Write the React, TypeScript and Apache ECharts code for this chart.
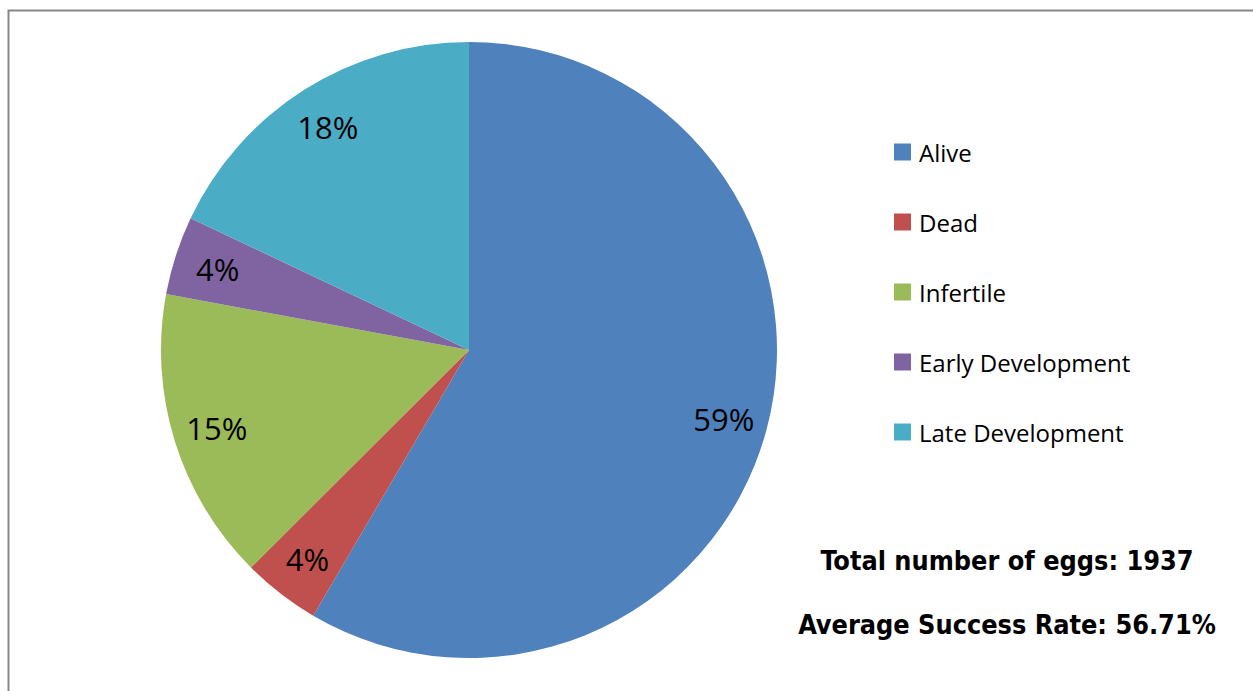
import React, { useEffect, useRef } from "react";
import * as echarts from "echarts";

const categories = ["Alive", "Dead", "Infertile", "Early Development", "Late Development"];
const counts = [1132, 79, 298, 80, 348];
const colors = ["#4F81BD", "#C0504D", "#9BBB59", "#8064A2", "#4BACC6"];
const totalEggs = 1937;
const successRate = "56.71%";

export default function App() {
  const ref = useRef<HTMLDivElement>(null);
  useEffect(() => {
    document.body.style.margin = "0";
    if (!ref.current) return;
    const chart = echarts.init(ref.current, null, { renderer: "svg" });
    const data = categories.map((name, i) => ({ name, value: counts[i], itemStyle: { color: colors[i] } }));
    const labelFont = "'Open Sans', sans-serif";
    const boldFont = "bold 26.8px 'DejaVu Sans Condensed', 'DejaVu Sans', sans-serif";
    chart.setOption({
      animation: false,
      backgroundColor: "#ffffff",
      legend: {
        orient: "vertical",
        left: 894,
        top: 139,
        padding: 0,
        itemWidth: 17,
        itemHeight: 17,
        itemGap: 44,
        icon: "rect",
        data: categories,
        selectedMode: false,
        textStyle: { fontFamily: labelFont, fontSize: 24, color: "#000", lineHeight: 26, padding: [0, 0, 0, 3] },
      },
      graphic: [
        {
          type: "rect",
          silent: true,
          shape: { x: 8.5, y: 10.5, width: 1400, height: 1000 },
          style: { fill: "none", stroke: "#878787", lineWidth: 2 },
          z: 0,
        },
        {
          type: "text",
          x: 1007,
          y: 560,
          style: {
            text: "Total number of eggs: " + totalEggs,
            font: boldFont,
            fill: "#000",
            align: "center",
            verticalAlign: "middle",
          },
        },
        {
          type: "text",
          x: 1007,
          y: 624,
          style: {
            text: "Average Success Rate: " + successRate,
            font: boldFont,
            fill: "#000",
            align: "center",
            verticalAlign: "middle",
          },
        },
      ],
      series: [
        {
          type: "pie",
          center: [469, 350],
          radius: [0, 308],
          startAngle: 90,
          clockwise: true,
          data,
          label: { show: false },
          labelLine: { show: false },
          itemStyle: { borderWidth: 0 },
          silent: true,
        },
        {
          type: "pie",
          center: [469, 350],
          radius: [214, 308],
          startAngle: 90,
          clockwise: true,
          percentPrecision: 0,
          data: categories.map((name, i) => ({ name, value: counts[i] })),
          itemStyle: { color: "rgba(0,0,0,0)", borderWidth: 0 },
          label: {
            show: true,
            position: "inside",
            formatter: "{d}%",
            fontFamily: labelFont,
            fontSize: 31,
            color: "#000",
          },
          labelLine: { show: false },
          silent: true,
        },
      ],
    });
    return () => chart.dispose();
  }, []);
  return <div ref={ref} style={{ width: 1253, height: 691 }} />;
}
